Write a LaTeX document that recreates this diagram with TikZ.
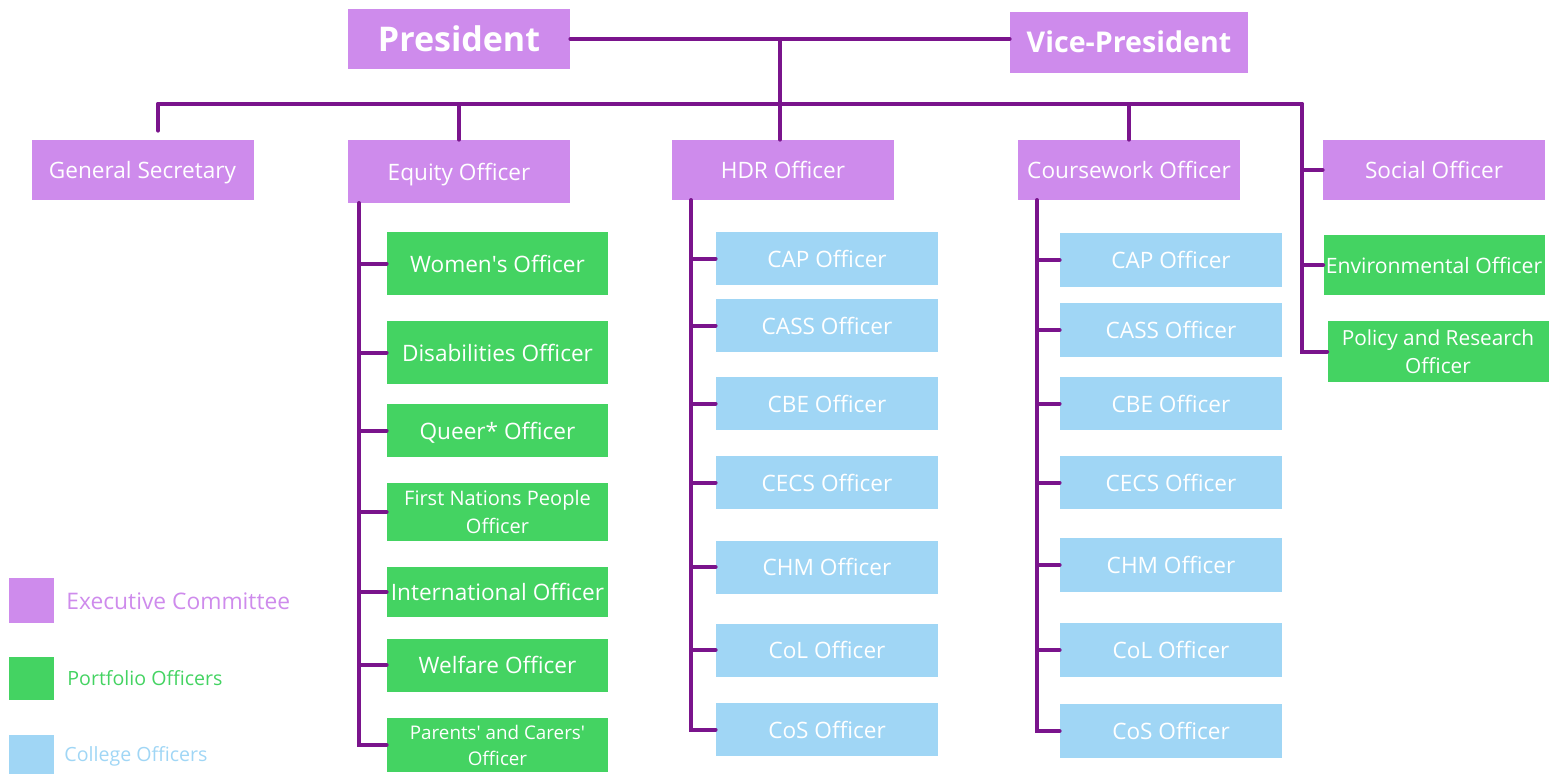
\documentclass[tikz,border=0pt]{standalone}
\usepackage{fontspec}
\setmainfont{Open Sans}
\definecolor{execc}{RGB}{206,139,236}
\definecolor{portc}{RGB}{68,211,98}
\definecolor{collc}{RGB}{160,214,245}
\definecolor{linkc}{RGB}{122,20,140}

\begin{document}
\begin{tikzpicture}[x=0.5pt, y=-0.5pt,
  every node/.style = {shape=rectangle, inner sep=0pt, text=white,
    align=center, font=\fontsize{11.3}{13.5}\selectfont},
  onerow/.style = {text height=8.6pt, text depth=0pt},
  lead/.style = {fill=execc, minimum width=111pt, minimum height=30pt},
  exec/.style = {lead, onerow},
  portbox/.style = {fill=portc, minimum width=110.5pt, minimum height=26.5pt},
  port/.style = {portbox, onerow},
  coll/.style = {fill=collc, minimum width=111pt, minimum height=26.5pt, onerow},
  key/.style = {minimum width=22.5pt, minimum height=22.5pt},
  keytext/.style = {anchor=west, font=\fontsize{9.8}{12}\selectfont},
  link/.style = {draw=linkc, line width=2pt, line cap=round}]
  \useasboundingbox (0,0) rectangle (1549,773);

  % executive
  \node[lead, font=\fontsize{17}{20}\bfseries] (pres) at (459,39) {President};
  \node[lead, minimum width=119pt, minimum height=30.5pt,
    font=\fontsize{14.3}{17}\bfseries] (vp) at (1129,42) {Vice-President};
  \node[exec] (gs) at (142.5,170) {General Secretary};
  \node[exec, minimum height=31.5pt] (eq) at (459,171.5) {Equity Officer};
  \node[exec] (hdr) at (783,170) {HDR Officer};
  \node[exec] (cw) at (1129,170) {Coursework Officer};
  \node[exec] (soc) at (1434,170) {Social Officer};

  % portfolio
  \node[port, minimum height=30pt,
    font=\fontsize{10.6}{12.5}\selectfont] (env) at (1434,265) {Environmental Officer};
  \node[portbox, minimum height=30.5pt,
    font=\fontsize{10.4}{14}\selectfont] (pol) at (1438,351.5) {Policy and Research\\Officer};
  \node[port, minimum height=31.5pt] (wom) at (497.5,263.5) {Women\textquotesingle s Officer};
  \node[port, minimum height=31.5pt] (dis) at (497.5,352.5) {Disabilities Officer};
  \node[port] (que) at (497.5,430.5) {Queer* Officer};
  \node[portbox, minimum height=29pt,
    font=\fontsize{10}{14}\selectfont] (fnp) at (497.5,512) {First Nations People\\Officer};
  \node[port, minimum height=25pt] (intl) at (497.5,592) {International Officer};
  \node[port] (wel) at (497.5,665) {Welfare Officer};
  \node[portbox, minimum height=27pt,
    font=\fontsize{9.4}{13}\selectfont] (par) at (497.5,745)
    {Parents\textquotesingle{} and Carers\textquotesingle\\Officer};

  % college, HDR side
  \node[coll] (hcap) at (827,258.5) {CAP Officer};
  \node[coll] (hcass) at (827,325.5) {CASS Officer};
  \node[coll] (hcbe) at (827,403.5) {CBE Officer};
  \node[coll] (hcecs) at (827,482.5) {CECS Officer};
  \node[coll] (hchm) at (827,567) {CHM Officer};
  \node[coll] (hcol) at (827,650) {CoL Officer};
  \node[coll] (hcos) at (827,729.5) {CoS Officer};

  % college, coursework side
  \node[coll, minimum height=27pt] (ccap) at (1171,260) {CAP Officer};
  \node[coll, minimum height=27pt] (ccass) at (1171,330) {CASS Officer};
  \node[coll] (ccbe) at (1171,403.5) {CBE Officer};
  \node[coll] (ccecs) at (1171,482.5) {CECS Officer};
  \node[coll, minimum height=27pt] (cchm) at (1171,565) {CHM Officer};
  \node[coll, minimum height=27pt] (ccol) at (1171,650) {CoL Officer};
  \node[coll, minimum height=27pt] (ccos) at (1171,731) {CoS Officer};

  % legend
  \node[key, fill=execc] (kexec) at (31.5,600) {};
  \node[key, fill=portc, minimum height=21.5pt] (kport) at (31.5,678.5) {};
  \node[key, fill=collc] (kcoll) at (31.5,757.5) {};
  \node[keytext, text=execc, font=\fontsize{11.4}{13}\selectfont] (texec) at (66,601) {Executive Committee};
  \node[keytext, text=portc] (tport) at (67,678) {Portfolio Officers};
  \node[keytext, text=collc] (tcoll) at (64,756) {College Officers};

  % top links
  \coordinate (busl) at (158,104);
  \coordinate (busr) at (1302,104);
  \draw[link] (pres.east) -- (pres.east -| vp.west);
  \draw[link] (pres.east -| 780,0) -- (hdr.north -| 780,0);
  \draw[link] (busl) -- (busr);
  \draw[link, shorten >=4.5pt] (busl) -- (busl |- gs.north);
  \draw[link] (eq.north |- busl) -- (eq.north);
  \draw[link] (cw.north |- busl) -- (cw.north);
  \draw[link] (busr) |- (pol.west);
  \draw[link] (busr |- soc.west) -- (soc.west);
  \draw[link] (busr |- env.west) -- (env.west);

  % equity spine
  \coordinate (eqs) at (359,203);
  \draw[link] (eqs) |- (par.west);
  \foreach \n in {wom,dis,que,fnp,intl,wel}
    \draw[link] (eqs |- \n.west) -- (\n.west);

  % HDR spine
  \coordinate (hdrs) at (691,200);
  \draw[link] (hdrs) |- (hcos.west);
  \foreach \n in {hcap,hcass,hcbe,hcecs,hchm,hcol}
    \draw[link] (hdrs |- \n.west) -- (\n.west);

  % coursework spine
  \coordinate (cws) at (1037,200);
  \draw[link] (cws) |- (ccos.west);
  \foreach \n in {ccap,ccass,ccbe,ccecs,cchm,ccol}
    \draw[link] (cws |- \n.west) -- (\n.west);
\end{tikzpicture}
\end{document}
